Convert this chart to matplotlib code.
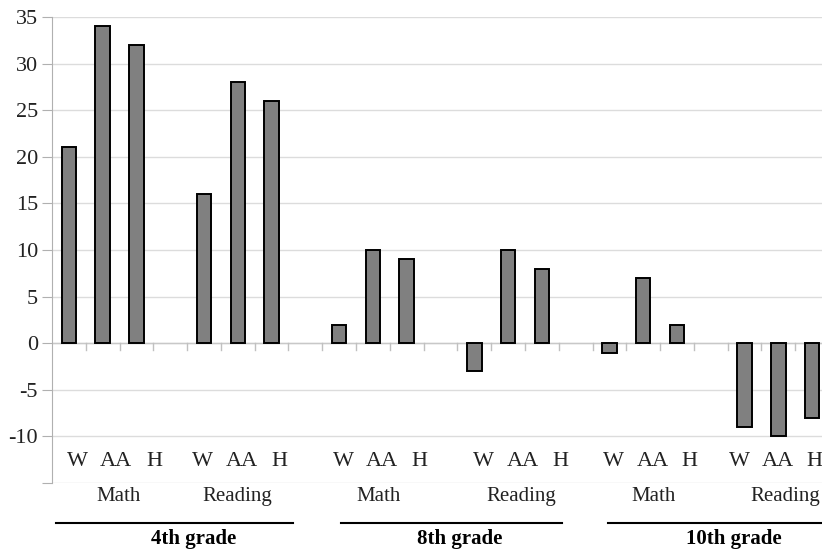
import numpy as np
import matplotlib
matplotlib.use("Agg")
import matplotlib.pyplot as plt

# Data: gap changes by grade / subject / group
grades = ["4th grade", "8th grade", "10th grade"]
subjects = ["Math", "Reading"]
groups = ["W", "AA", "H"]
values = [
    [21, 34, 32],    # 4th Math
    [16, 28, 26],    # 4th Reading
    [2, 10, 9],      # 8th Math
    [-3, 10, 8],     # 8th Reading
    [-1, 7, 2],      # 10th Math
    [-9, -10, -8],   # 10th Reading
]

plt.rcParams['font.family'] = ['Liberation Serif', 'DejaVu Serif']

fig = plt.figure(figsize=(8.22, 5.54), dpi=100)
# axes runs a little past the right edge, like the cropped original
ax = fig.add_axes([52 / 822, 1 - 483 / 554, 777 / 822, 466 / 554])

# category slots: 3 bars per subject + 1 empty slot between subjects
xs = []
ys = []
for i, row in enumerate(values):
    for j, v in enumerate(row):
        xs.append(i * 4 + j)
        ys.append(v)
ax.bar(xs, ys, width=0.43, color="#808080", edgecolor="black", linewidth=1.4, zorder=3)

ax.set_xlim(-0.5, 22.5)
ax.set_ylim(-15, 35)
ax.set_yticks(np.arange(-15, 36, 5))
ax.set_yticklabels(["" if t == -15 else str(t) for t in range(-15, 36, 5)], fontsize=16)
ax.grid(axis="y", color="#dcdcdc", linewidth=1.0, zorder=0)
ax.set_xticks([])
for s in ["top", "right", "bottom"]:
    ax.spines[s].set_visible(False)
ax.spines["left"].set_color("#b0b0b0")
ax.tick_params(axis="y", length=7, pad=3, colors="#222222")
ax.tick_params(axis="y", color="#b0b0b0")

# zero line with category tick marks
ax.axhline(0, color="#c8c8c8", linewidth=1.0, zorder=2)
for k in range(1, 24):
    ax.plot([k - 0.5, k - 0.5], [0, -0.7], color="#c0c0c0", linewidth=1.0, zorder=2, clip_on=False)

# group labels (text row inside the plot area)
label_x = [
    [0.24, 1.39, 2.52], [3.94, 5.12, 6.22],
    [8.14, 9.26, 10.36], [12.28, 13.43, 14.56],
    [16.13, 17.28, 18.38], [19.86, 20.98, 22.07],
]
for pos in label_x:
    for x, g in zip(pos, groups):
        ax.text(x, -12.7, g, ha="center", va="center", fontsize=16, color="#222222")

subject_x = [1.48, 4.97, 9.17, 13.4, 17.3, 21.2]
for i, x in enumerate(subject_x):
    ax.text(x, -16.5, subjects[i % 2], ha="center", va="center", fontsize=15,
            color="#222222", clip_on=False)

grade_line = [(-0.38, 6.63), (8.05, 14.59), (15.95, 22.5)]
grade_x = [3.7, 11.57, 19.68]
for (x0, x1), x, g in zip(grade_line, grade_x, grades):
    ax.plot([x0, x1], [-19.3, -19.3], color="black", linewidth=1.5, clip_on=False)
    ax.text(x, -21.0, g, ha="center", va="center", fontsize=15, fontweight="bold", clip_on=False)

fig.savefig("out.png", dpi=100)
